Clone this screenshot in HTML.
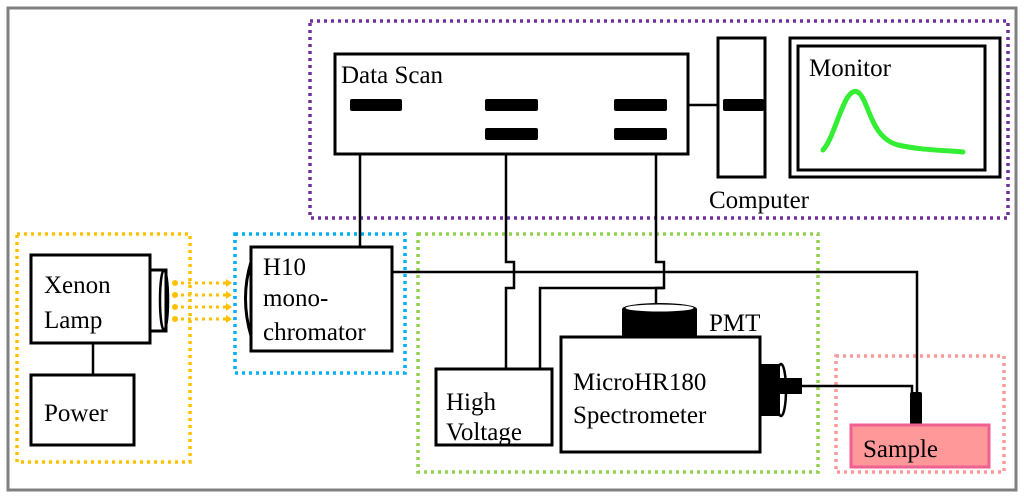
<!DOCTYPE html>
<html><head><style>body{margin:0;background:#fff}svg{display:block}text{font-family:"Liberation Serif","DejaVu Serif","Times New Roman",serif;font-size:25px;fill:#000}</style></head><body>
<svg width="1024" height="499" viewBox="0 0 1024 499">
<rect x="8" y="8" width="1008" height="482" fill="#fff" stroke="#808080" stroke-width="3"/>
<g fill="none" stroke-width="3.5" stroke-dasharray="3 4">
<rect x="310" y="21" width="698" height="197" stroke="#7030a0"/>
<rect x="17" y="234" width="173" height="228" stroke="#ffc000"/>
<rect x="235" y="234" width="170" height="139" stroke="#00b0f0"/>
<rect x="418" y="234" width="400" height="238" stroke="#92d050"/>
<rect x="836" y="356" width="168" height="116" stroke="#ff9999"/>
</g>
<g fill="none" stroke="#000" stroke-width="2.5">
<polyline points="360,154 360,247"/>
<polyline points="506,154 506,262 514,262 514,288 506,288 506,369"/>
<polyline points="540,369 540,288 664,288"/>
<polyline points="656,154 656,262 664,262 664,288 656,288 656,304"/>
<polyline points="392,272 917,272 917,394"/>
<polyline points="800,386 912,386 912,394"/>
<line x1="667" y1="105" x2="723" y2="105"/>
<line x1="93" y1="343" x2="93" y2="375"/>
</g>
<g fill="#fff" stroke="#000" stroke-width="3">
<rect x="335" y="54" width="353" height="100"/>
<rect x="718" y="38" width="47" height="139"/>
<rect x="790" y="38" width="210" height="139"/>
<rect x="798" y="46" width="187" height="124"/>
<rect x="31" y="255" width="119" height="88"/>
<rect x="150" y="270" width="16" height="61"/>
<rect x="31" y="375" width="103" height="70"/>
<rect x="251" y="247" width="141" height="104"/>
<rect x="436" y="369" width="116" height="76"/>
<rect x="561" y="337" width="199" height="115"/>
</g>
<ellipse cx="164" cy="300" rx="4" ry="30" fill="none" stroke="#000" stroke-width="2.5"/>
<path d="M251 262 Q240 298 251 336" fill="none" stroke="#000" stroke-width="3"/>
<g fill="#000">
<rect x="350" y="99" width="52" height="12" rx="2"/>
<rect x="485" y="99" width="53" height="12" rx="2"/>
<rect x="485" y="128" width="53" height="12" rx="2"/>
<rect x="614" y="99" width="53" height="12" rx="2"/>
<rect x="614" y="128" width="53" height="12" rx="2"/>
<rect x="723" y="99" width="41" height="12" rx="2"/>
<rect x="622" y="309" width="75" height="29"/>
<ellipse cx="659.5" cy="309" rx="37.5" ry="6"/>
<rect x="760" y="364" width="20" height="52"/>
<rect x="778" y="378" width="24" height="16"/>
<rect x="910" y="392" width="12" height="33" rx="2"/>
</g>
<ellipse cx="659.5" cy="308" rx="34" ry="3.5" fill="#fff"/>
<ellipse cx="781" cy="390" rx="5" ry="26" fill="none" stroke="#000" stroke-width="2.5"/>
<rect x="851" y="425" width="138" height="42" fill="#ff9999" stroke="#f06090" stroke-width="3"/>
<path d="M823 150 C832 140 836 120 846 100 C854 86 860 90 866 105 C874 125 880 140 898 145 C920 150 940 150 963 152" fill="none" stroke="#33ee33" stroke-width="5" stroke-linecap="round"/>
<g fill="none" stroke="#ffc000" stroke-width="3" stroke-dasharray="3 4">
<line x1="174" y1="283" x2="230" y2="283"/><line x1="174" y1="295" x2="230" y2="295"/><line x1="174" y1="307" x2="230" y2="307"/><line x1="174" y1="319" x2="230" y2="319"/>
</g>
<g fill="#ffc000">
<circle cx="175" cy="283" r="3"/><circle cx="175" cy="295" r="3"/><circle cx="175" cy="307" r="3"/><circle cx="175" cy="319" r="3"/>
<path d="M226 279l6 4-6 4z M226 291l6 4-6 4z M226 303l6 4-6 4z M226 315l6 4-6 4z"/>
</g>
<text x="341" y="83">Data Scan</text>
<text x="809" y="76">Monitor</text>
<text x="709" y="208">Computer</text>
<text x="44" y="293">Xenon</text>
<text x="44" y="328">Lamp</text>
<text x="44" y="421">Power</text>
<text x="263" y="275">H10</text>
<text x="263" y="306">mono-</text>
<text x="263" y="340">chromator</text>
<text x="446" y="410">High</text>
<text x="446" y="440">Voltage</text>
<text x="573" y="390">MicroHR180</text>
<text x="573" y="423">Spectrometer</text>
<text x="709" y="331">PMT</text>
<text x="863" y="457">Sample</text>
</svg>
</body></html>
